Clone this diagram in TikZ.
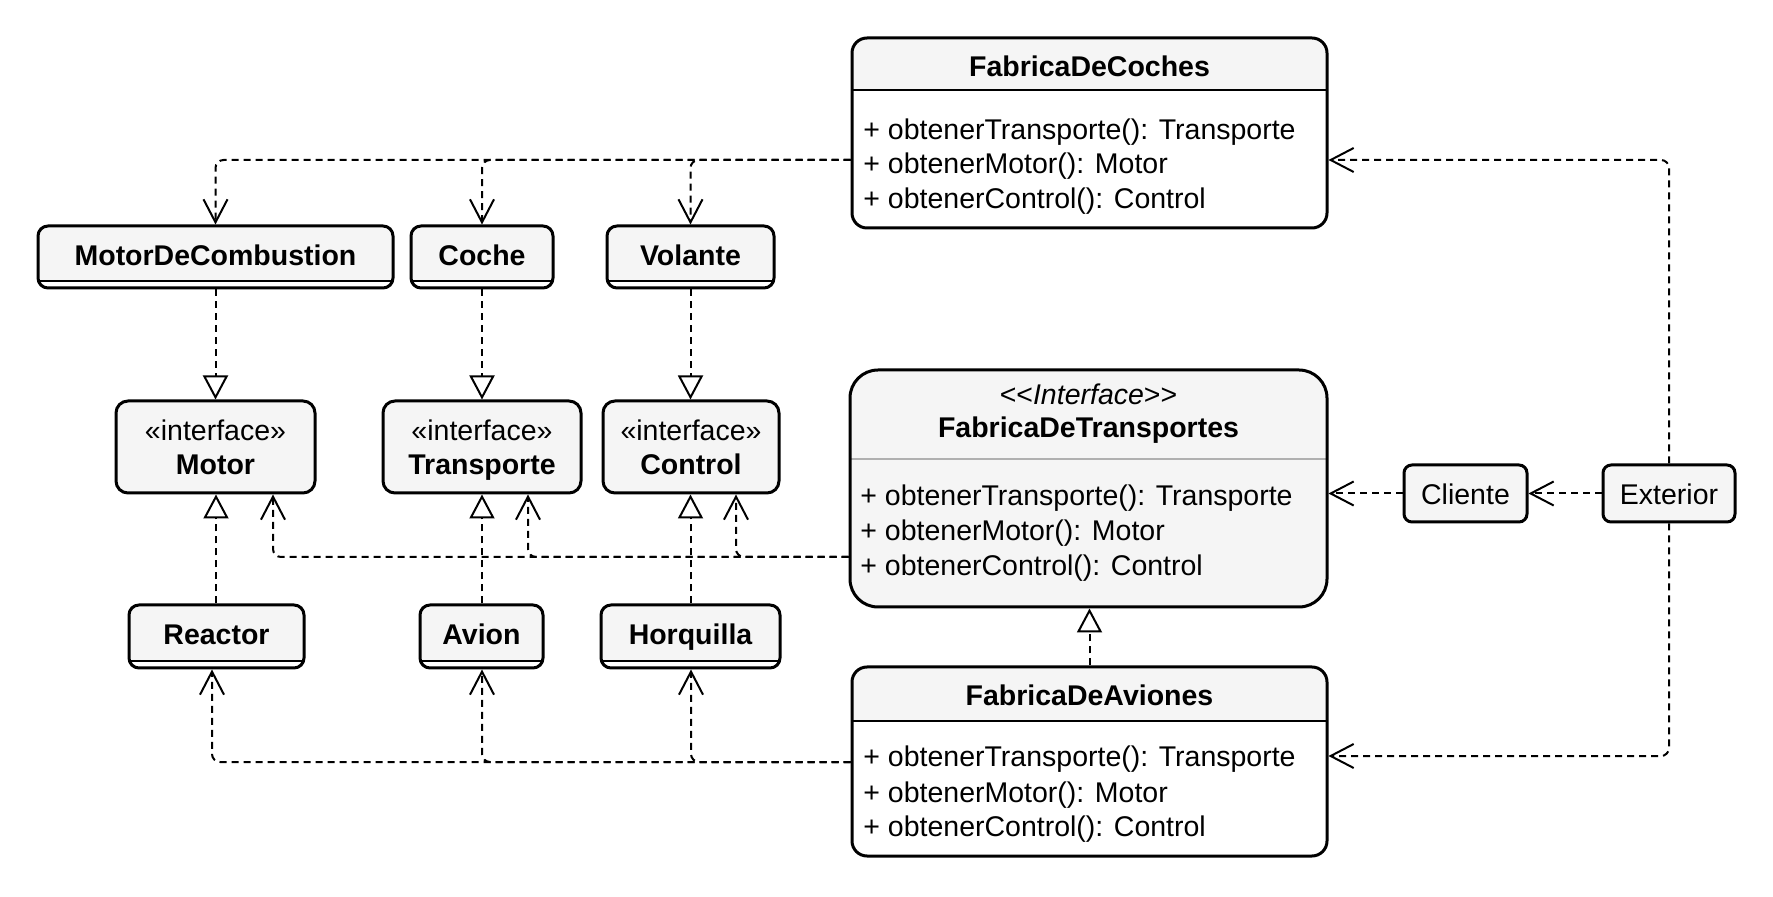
\documentclass[tikz,border=0pt]{standalone}
\usepackage{fontspec}
\setmainfont{Liberation Sans}
\usetikzlibrary{arrows.meta,calc}
\definecolor{boxgray}{HTML}{F5F5F5}
\definecolor{sepgray}{HTML}{B0B0B0}
\begin{document}
\begin{tikzpicture}[x=0.5pt,y=-0.5pt,
  reg/.style={inner sep=0pt, font=\fontsize{14.25}{17}\selectfont},
  bld/.style={inner sep=0pt, font=\fontsize{14.25}{17}\selectfont\bfseries},
  box/.style={draw, line width=1.5pt, fill=boxgray, inner sep=0pt},
  smallclass/.style={box, rounded corners=5pt,
    path picture={
      \fill[white, sharp corners] (path picture bounding box.south west) rectangle ([yshift=3.5pt]path picture bounding box.south east);
      \draw[line width=1pt, sharp corners] ([yshift=3.5pt]path picture bounding box.south west) -- ([yshift=3.5pt]path picture bounding box.south east);}},
  bigclass/.style={box, fill=white, rounded corners=7.5pt,
    path picture={
      \fill[boxgray, sharp corners] (path picture bounding box.north west) rectangle ([yshift=-#1]path picture bounding box.north east);
      \draw[line width=1pt, sharp corners] ([yshift=-#1]path picture bounding box.north west) -- ([yshift=-#1]path picture bounding box.north east);}},
  ifacebig/.style={box, rounded corners=14pt,
    path picture={\draw[sepgray, line width=1pt, sharp corners] ([yshift=-44.5pt]path picture bounding box.north west) -- ([yshift=-44.5pt]path picture bounding box.north east);}},
  iface/.style={box, rounded corners=6pt},
  actor/.style={box, rounded corners=4pt},
  dep/.style={line width=1pt, dash pattern=on 3.5pt off 2.5pt, rounded corners=4pt,
    -{Straight Barb[length=11.5pt,width=12pt,line width=1pt]}},
  real/.style={line width=1pt, dash pattern=on 3.5pt off 2.5pt,
    -{Triangle[open,length=12pt,width=12.5pt,line width=1pt,fill=white]}},
]
\useasboundingbox (0,0) rectangle (1773,897);

% ---- concrete products (top row)
\node[smallclass, minimum width=177.5pt, minimum height=31pt] (mdc) at (215.5,257) {};
\node[smallclass, minimum width=71pt, minimum height=31pt] (coche) at (482,257) {};
\node[smallclass, minimum width=83.5pt, minimum height=31pt] (volante) at (690.5,257) {};
\node[bld, anchor=base] (mdc-t) at (215.5,266) {MotorDeCombustion};
\node[bld, anchor=base] (coche-t) at (482,266) {Coche};
\node[bld, anchor=base] (volante-t) at (690.5,266) {Volante};

% ---- interfaces
\node[iface, minimum width=99.5pt, minimum height=46pt] (motor) at (215.5,447) {};
\node[iface, minimum width=99pt, minimum height=46pt] (transporte) at (482,447) {};
\node[iface, minimum width=88pt, minimum height=46pt] (control) at (691,447) {};
\node[reg, anchor=base] (motor-s) at (215.5,441) {«interface»};
\node[bld, anchor=base] (motor-t) at (215.5,475) {Motor};
\node[reg, anchor=base] (transporte-s) at (482,441) {«interface»};
\node[bld, anchor=base] (transporte-t) at (482,475) {Transporte};
\node[reg, anchor=base] (control-s) at (691,441) {«interface»};
\node[bld, anchor=base] (control-t) at (691,475) {Control};

% ---- concrete products (bottom row)
\node[smallclass, minimum width=87.5pt, minimum height=31.5pt] (reactor) at (216.5,636.5) {};
\node[smallclass, minimum width=61.5pt, minimum height=31.5pt] (avion) at (481.5,636.5) {};
\node[smallclass, minimum width=89.5pt, minimum height=31.5pt] (horquilla) at (690.5,636.5) {};
\node[bld, anchor=base] (reactor-t) at (216.5,645) {Reactor};
\node[bld, anchor=base] (avion-t) at (481.5,645) {Avion};
\node[bld, anchor=base] (horquilla-t) at (690.5,645) {Horquilla};

% ---- FabricaDeCoches
\node[bigclass=26pt, minimum width=237.5pt, minimum height=95pt] (fdc) at (1089.5,133) {};
\node[bld, anchor=base] (fdc-t) at (1089.5,77) {FabricaDeCoches};
\node[reg, anchor=base west] (fdc-m1) at (863,140) {+ obtenerTransporte(): Transporte};
\node[reg, anchor=base west] (fdc-m2) at (863,174) {+ obtenerMotor(): Motor};
\node[reg, anchor=base west] (fdc-m3) at (863,209) {+ obtenerControl(): Control};

% ---- FabricaDeTransportes
\node[ifacebig, minimum width=238.5pt, minimum height=118.5pt] (fdt) at (1088.5,488.5) {};
\node[reg, anchor=base] (fdt-s) at (1088.5,405) {<{}<\textit{Interface}>{}>};
\node[bld, anchor=base] (fdt-t) at (1088.5,438) {FabricaDeTransportes};
\node[reg, anchor=base west] (fdt-m1) at (860,506) {+ obtenerTransporte(): Transporte};
\node[reg, anchor=base west] (fdt-m2) at (860,541) {+ obtenerMotor(): Motor};
\node[reg, anchor=base west] (fdt-m3) at (860,576) {+ obtenerControl(): Control};

% ---- FabricaDeAviones
\node[bigclass=27pt, minimum width=237.5pt, minimum height=94.5pt] (fda) at (1089.5,761.5) {};
\node[bld, anchor=base] (fda-t) at (1089.5,705) {FabricaDeAviones};
\node[reg, anchor=base west] (fda-m1) at (863,767) {+ obtenerTransporte(): Transporte};
\node[reg, anchor=base west] (fda-m2) at (863,802) {+ obtenerMotor(): Motor};
\node[reg, anchor=base west] (fda-m3) at (863,836) {+ obtenerControl(): Control};

% ---- Cliente / Exterior
\node[actor, minimum width=61.5pt, minimum height=28.5pt] (cliente) at (1465.5,493.5) {};
\node[actor, minimum width=66pt, minimum height=28.5pt] (exterior) at (1669,493.5) {};
\node[reg, anchor=base] (cliente-t) at (1465.5,505) {Cliente};
\node[reg, anchor=base] (exterior-t) at (1669,505) {Exterior};

% ---- FabricaDeCoches creates
\draw[dep] (fdc.west |- 0,160) -| (mdc.north);
\draw[dep] (fdc.west |- 0,160) -| (coche.north);
\draw[dep] (fdc.west |- 0,160) -| (volante.north);

% ---- realizations of product interfaces
\draw[real] (mdc.south) -- (mdc.south |- motor.north);
\draw[real] (coche.south) -- (coche.south |- transporte.north);
\draw[real] (volante.south) -- (volante.south |- control.north);
\draw[real] (reactor.north -| 216,0) -- (motor.south -| 216,0);
\draw[real] (avion.north -| 482,0) -- (transporte.south -| 482,0);
\draw[real] (horquilla.north -| 690.5,0) -- (control.south -| 690.5,0);

% ---- FabricaDeTransportes uses interfaces
\draw[dep] (fdt.west |- 0,557) -| (motor.south -| 273,0);
\draw[dep] (fdt.west |- 0,557) -| (transporte.south -| 528,0);
\draw[dep] (fdt.west |- 0,557) -| (control.south -| 736,0);

% ---- FabricaDeAviones creates
\draw[dep] (fda.west |- 0,762) -| (reactor.south -| 212,0);
\draw[dep] (fda.west |- 0,762) -| (avion.south -| 482,0);
\draw[dep] (fda.west |- 0,762) -| (horquilla.south -| 691,0);

% ---- FabricaDeAviones realizes FabricaDeTransportes
\draw[real] (fda.north) -- (fda.north |- fdt.south);

% ---- Cliente / Exterior
\draw[dep] (cliente.west) -- (cliente.west -| fdt.east);
\draw[dep] (exterior.west) -- (cliente.east);
\draw[dep] (exterior.north) |- (fdc.east |- 0,160);
\draw[dep] (exterior.south) |- (fda.east |- 0,756);
\end{tikzpicture}
\end{document}
